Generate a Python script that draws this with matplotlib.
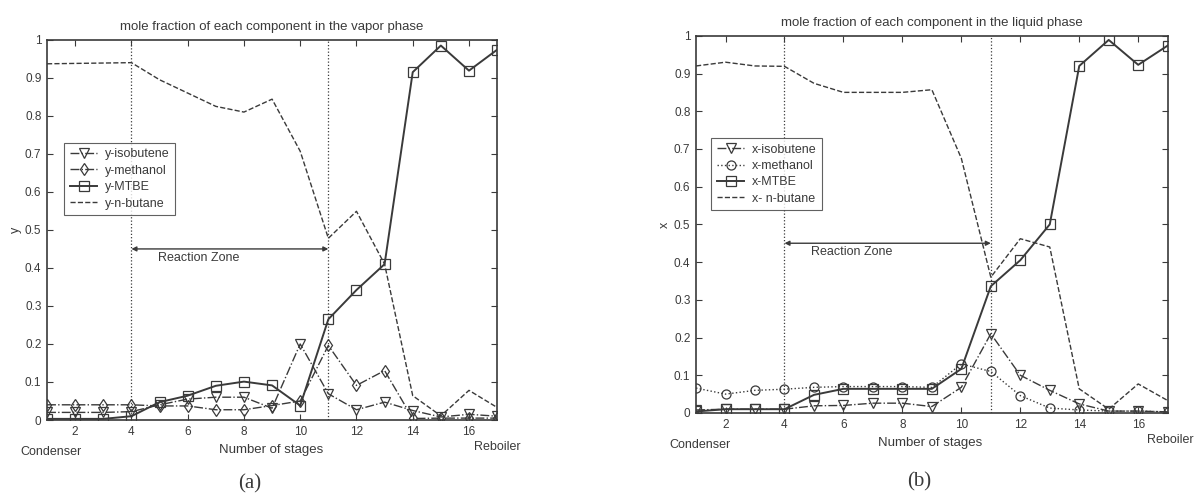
import numpy as np
import matplotlib
matplotlib.use('Agg')
import matplotlib.pyplot as plt

plt.rcParams['font.family'] = ['Liberation Sans', 'DejaVu Sans']

stages = np.arange(1, 18)

# vapour phase (a)
y_isobutene = [0.020, 0.020, 0.020, 0.022, 0.040, 0.055, 0.060, 0.060, 0.031,
               0.200, 0.069, 0.027, 0.047, 0.025, 0.008, 0.015, 0.010]
y_methanol = [0.040, 0.040, 0.040, 0.040, 0.037, 0.037, 0.027, 0.027, 0.038,
              0.050, 0.196, 0.091, 0.130, 0.004, 0.005, 0.005, 0.005]
y_mtbe = [0.003, 0.003, 0.003, 0.010, 0.047, 0.064, 0.090, 0.101, 0.091,
          0.038, 0.265, 0.342, 0.410, 0.915, 0.985, 0.919, 0.974]
y_nbutane = [0.937, 0.938, 0.939, 0.940, 0.895, 0.860, 0.825, 0.810, 0.844,
             0.707, 0.478, 0.549, 0.410, 0.064, 0.011, 0.078, 0.033]

# liquid phase (b)
x_isobutene = [0.008, 0.010, 0.010, 0.010, 0.019, 0.020, 0.026, 0.026, 0.017,
               0.068, 0.210, 0.100, 0.060, 0.024, 0.005, 0.005, 0.003]
x_methanol = [0.066, 0.050, 0.060, 0.063, 0.068, 0.070, 0.070, 0.070, 0.068,
              0.130, 0.110, 0.046, 0.013, 0.008, 0.005, 0.005, 0.003]
x_mtbe = [0.004, 0.010, 0.010, 0.010, 0.048, 0.064, 0.064, 0.064, 0.064,
          0.117, 0.336, 0.405, 0.500, 0.920, 0.989, 0.923, 0.974]
x_nbutane = [0.920, 0.930, 0.920, 0.919, 0.874, 0.850, 0.850, 0.850, 0.857,
             0.675, 0.360, 0.462, 0.440, 0.064, 0.010, 0.077, 0.033]

zone = (4, 11)
ink = '#3a3a3a'
fs = 9


def panel(ax, series, title, ylab, legloc, zonetext, below, reb_x):
    for vals, label, ls, mk in series:
        ax.plot(stages, vals, linestyle=ls, marker=mk, color=ink, lw=1.0 if ls != '-' else 1.4,
                markersize=6.5, markerfacecolor='none', markeredgewidth=0.9, label=label)
    for z in zone:
        ax.axvline(z, color=ink, ls=':', lw=0.9)
    ax.annotate('', xy=(zone[0], 0.45), xytext=(zone[1], 0.45),
                arrowprops=dict(arrowstyle='<|-|>', color=ink, lw=1.0,
                                mutation_scale=7, shrinkA=0, shrinkB=0))
    ax.text(zonetext[0], zonetext[1], 'Reaction Zone', fontsize=fs, color=ink, va='center')
    ax.set_xlim(1, 17)
    ax.set_ylim(0, 1)
    ax.set_xticks(range(2, 17, 2))
    ax.set_yticks(np.arange(0, 1.01, 0.1))
    ax.set_yticklabels(['0'] + ['%.1f' % v for v in np.arange(0.1, 0.95, 0.1)] + ['1'])
    ax.tick_params(direction='in', top=True, right=True, labelsize=fs - 0.5, colors=ink,
                   length=4, pad=4)
    for sp in ax.spines.values():
        sp.set_color(ink)
        sp.set_linewidth(1.2)
    ax.set_title(title, fontsize=fs + 0.5, color=ink, pad=7)
    ax.set_ylabel(ylab, fontsize=fs, color=ink, labelpad=2)
    xf = ax.get_xaxis_transform()
    ax.text(8.95, -below, 'Number of stages', fontsize=fs + 0.5, color=ink, ha='center',
            va='center', transform=xf)
    ax.text(1.15, -below - 0.005, 'Condenser', fontsize=fs, color=ink, ha='center',
            va='center', transform=xf)
    ax.text(reb_x, -below + 0.009, 'Reboiler', fontsize=fs, color=ink, ha='center',
            va='center', transform=xf)
    leg = ax.legend(loc='upper left', bbox_to_anchor=legloc, fontsize=fs,
                    frameon=True, fancybox=False, handlelength=2.2, borderaxespad=0,
                    borderpad=0.45, labelspacing=0.35, handletextpad=0.6)
    leg.get_frame().set_edgecolor(ink)
    leg.get_frame().set_linewidth(0.8)
    for t in leg.get_texts():
        t.set_color(ink)


fig = plt.figure(figsize=(11.97, 4.95), dpi=100)
ax1 = fig.add_axes([0.0393, 0.1515, 0.376, 0.768])
ax2 = fig.add_axes([0.5815, 0.1657, 0.394, 0.762])

panel(ax1, [(y_isobutene, 'y-isobutene', '-.', 'v'),
            (y_methanol, 'y-methanol', '-.', 'd'),
            (y_mtbe, 'y-MTBE', '-', 's'),
            (y_nbutane, 'y-n-butane', '--', None)],
      'mole fraction of each component in the vapor phase', 'y',
      (0.038, 0.729), (4.93, 0.427), 0.08, 17.0)
panel(ax2, [(x_isobutene, 'x-isobutene', '-.', 'v'),
            (x_methanol, 'x-methanol', ':', 'o'),
            (x_mtbe, 'x-MTBE', '-', 's'),
            (x_nbutane, 'x- n-butane', '--', None)],
      'mole fraction of each component in the liquid phase', 'x',
      (0.032, 0.729), (4.9, 0.427), 0.08, 17.1)

fig.text(0.209, 0.022, '(a)', fontsize=15, family='Liberation Serif', color=ink,
         ha='center', va='center')
fig.text(0.768, 0.026, '(b)', fontsize=15, family='Liberation Serif', color=ink,
         ha='center', va='center')

fig.savefig('out.png', dpi=100)
